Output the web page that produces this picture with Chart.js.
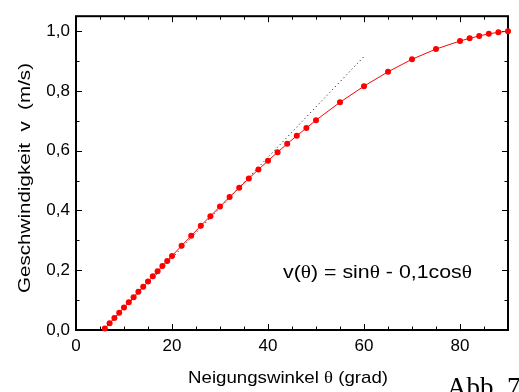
<!DOCTYPE html>
<html>
<head>
<meta charset="utf-8">
<script src="https://cdn.jsdelivr.net/npm/chart.js@4"></script>
<style>
  html, body { margin: 0; padding: 0; background: #fff; }
  canvas { display: block; }
</style>
</head>
<body>
<canvas id="chart" width="519" height="392"></canvas>
<script>
// measured points (angle in degrees, speed in m/s)
const angles = [6, 7, 8, 9, 10, 11, 12, 13, 14, 15, 16, 17, 18, 19, 20,
    22, 24, 26, 28, 30, 32, 34, 36, 38, 40, 42, 44, 46, 48, 50,
    55, 60, 65, 70, 75, 80, 82, 84, 86, 88, 90];
const speeds = [0.005, 0.023, 0.040, 0.058, 0.075, 0.093, 0.110, 0.128, 0.145, 0.162,
    0.180, 0.197, 0.214, 0.231, 0.248,
    0.282, 0.315, 0.349, 0.381, 0.413, 0.445, 0.476, 0.507, 0.537, 0.566,
    0.595, 0.623, 0.650, 0.676, 0.702,
    0.762, 0.816, 0.864, 0.906, 0.940, 0.967, 0.976, 0.984, 0.991, 0.996, 1.000];

// dotted straight line (small angle approximation)
const lineX = [5.7, 60];
const lineY = [0, 0.915];

const xTicks = [0, 20, 40, 60, 80];
const yTicks = [0, 0.2, 0.4, 0.6, 0.8, 1.0];

const sans = '"Liberation Sans", Arial, sans-serif';
const serif = '"Liberation Serif", "Times New Roman", serif';

// draws a row of text runs with mixed fonts, stretched to a target width
function drawRuns(ctx, runs, cx, baseline, targetWidth) {
    let total = 0;
    runs.forEach(r => { ctx.font = r.f; total += ctx.measureText(r.t).width; });
    const sx = targetWidth ? targetWidth / total : 1;
    ctx.save();
    ctx.translate(cx, baseline);
    ctx.scale(sx, 1);
    let x = -total / 2;
    ctx.textBaseline = 'alphabetic';
    ctx.textAlign = 'left';
    runs.forEach(r => {
        ctx.font = r.f;
        ctx.fillText(r.t, x, 0);
        x += ctx.measureText(r.t).width;
    });
    ctx.restore();
}

const framePlugin = {
    id: 'frame',
    beforeDatasetsDraw(chart) {
        const ctx = chart.ctx;
        const a = chart.chartArea;
        const xs = chart.scales.x, ys = chart.scales.y;
        ctx.save();
        ctx.strokeStyle = '#000';
        ctx.lineWidth = 2;
        ctx.strokeRect(a.left, a.top, a.right - a.left, a.bottom - a.top);
        ctx.lineWidth = 1;
        ctx.beginPath();
        for (let v = 0; v <= 90; v += 5) {
            const px = Math.round(xs.getPixelForValue(v)) + 0.5;
            const len = v % 20 === 0 ? 6 : 3.5;
            ctx.moveTo(px, a.bottom); ctx.lineTo(px, a.bottom - len);
            ctx.moveTo(px, a.top); ctx.lineTo(px, a.top + len);
        }
        for (let i = 0; i <= 10; i++) {
            const py = Math.round(ys.getPixelForValue(i / 10)) + 0.5;
            const len = i % 2 === 0 ? 6 : 3.5;
            ctx.moveTo(a.left, py); ctx.lineTo(a.left + len, py);
            ctx.moveTo(a.right, py); ctx.lineTo(a.right - len, py);
        }
        ctx.stroke();
        ctx.restore();
    },
    afterDraw(chart) {
        const ctx = chart.ctx;
        ctx.save();
        ctx.fillStyle = '#000';
        // x axis title
        drawRuns(ctx, [
            { t: 'Neigungswinkel ', f: '17px ' + sans },
            { t: 'θ', f: '17px ' + serif },
            { t: ' (grad)', f: '17px ' + sans }
        ], 288, 383, 200);
        // y axis title
        ctx.save();
        ctx.translate(30, 178);
        ctx.rotate(-Math.PI / 2);
        drawRuns(ctx, [{ t: 'Geschwindigkeit  v  (m/s)', f: '17px ' + sans }], 0, 0, 230);
        ctx.restore();
        // formula
        drawRuns(ctx, [
            { t: 'v(', f: '19px ' + sans },
            { t: 'θ', f: '19px ' + serif },
            { t: ') = sin', f: '19px ' + sans },
            { t: 'θ', f: '19px ' + serif },
            { t: ' - 0,1cos', f: '19px ' + sans },
            { t: 'θ', f: '19px ' + serif }
        ], 377.5, 278, 189);
        // figure caption, cut at the page edge
        ctx.font = '27px ' + serif;
        ctx.textAlign = 'left';
        ctx.textBaseline = 'alphabetic';
        ctx.fillText('Abb. 7', 447, 396);
        ctx.restore();
    }
};

new Chart(document.getElementById('chart'), {
    type: 'scatter',
    data: {
        datasets: [
            {
                label: 'v',
                data: angles.map((a, i) => ({ x: a, y: speeds[i] })),
                showLine: true,
                borderColor: '#ff0000',
                borderWidth: 1,
                backgroundColor: '#ff0000',
                pointBackgroundColor: '#ff0000',
                pointBorderWidth: 0,
                pointRadius: 3,
                clip: false,
                order: 1
            },
            {
                label: 'linear',
                data: lineX.map((a, i) => ({ x: a, y: lineY[i] })),
                showLine: true,
                borderColor: '#000',
                borderWidth: 1,
                borderDash: [1, 3],
                pointRadius: 0,
                order: 2
            }
        ]
    },
    options: {
        responsive: false,
        animation: false,
        layout: { padding: { top: 11, right: 11, left: 0, bottom: 0 } },
        plugins: {
            legend: { display: false },
            tooltip: { enabled: false }
        },
        scales: {
            x: {
                type: 'linear',
                min: 0,
                max: 90,
                afterFit: s => { s.height = 62; },
                grid: { display: false, drawTicks: false },
                border: { display: false },
                afterBuildTicks: s => { s.ticks = xTicks.map(v => ({ value: v })); },
                ticks: {
                    padding: 6,
                    color: '#000',
                    font: { family: sans, size: 17 },
                    maxRotation: 0
                }
            },
            y: {
                type: 'linear',
                min: 0,
                max: 1.05,
                afterFit: s => { s.width = 76; },
                grid: { display: false, drawTicks: false },
                border: { display: false },
                afterBuildTicks: s => { s.ticks = yTicks.map(v => ({ value: v })); },
                ticks: {
                    padding: 6,
                    color: '#000',
                    font: { family: sans, size: 17 },
                    callback: v => v.toFixed(1).replace('.', ',')
                }
            }
        }
    },
    plugins: [framePlugin]
});
</script>
</body>
</html>
